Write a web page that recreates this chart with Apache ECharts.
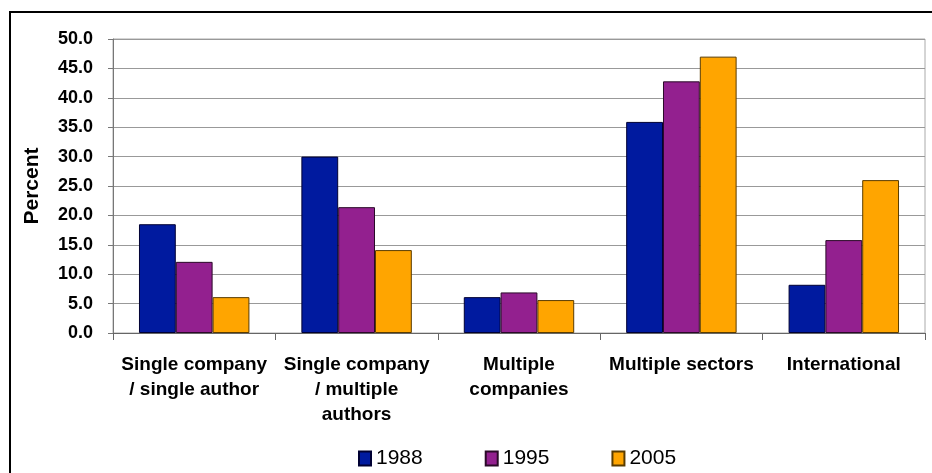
<!DOCTYPE html>
<html>
<head>
<meta charset="utf-8">
<script src="https://cdn.jsdelivr.net/npm/echarts@6/dist/echarts.min.js"></script>
<style>html,body{margin:0;padding:0;background:#fff}#c{width:932px;height:473px}</style>
</head>
<body>
<div id="c"></div>
<script>
const categories = ["Single company\n/ single author", "Single company\n/ multiple\nauthors", "Multiple\ncompanies", "Multiple sectors", "International"];
const seriesNames = ["1988", "1995", "2005"];
const values1988 = [18.5, 30.0, 6.1, 35.9, 8.2];
const values1995 = [12.1, 21.4, 6.9, 42.8, 15.8];
const values2005 = [6.1, 14.1, 5.6, 47.0, 26.0];
const colors = ["#001A9F", "#93208F", "#FFA500"];
const borderColors = ["#000033", "#2a0a28", "#5a3c00"];
const yTicks = { min: 0, max: 50, interval: 5 };

const chart = echarts.init(document.getElementById('c'), null, { renderer: 'canvas' });
const data = [values1988, values1995, values2005];
chart.setOption({
  animation: false,
  backgroundColor: '#fff',
  textStyle: { fontFamily: 'Liberation Sans, Arial, sans-serif' },
  graphic: [{
    type: 'rect', shape: { x: 10, y: 12, width: 1200, height: 1200 },
    style: { fill: 'none', stroke: '#000', lineWidth: 2 }, z: 100, silent: true
  }],
  grid: { left: 113, right: 7, top: 39, bottom: 140, show: true, borderColor: '#aaa', borderWidth: 1 },
  legend: {
    data: seriesNames, left: 353, top: 443, itemWidth: 12, itemHeight: 14, itemGap: 62,
    icon: 'rect',
    textStyle: { fontSize: 21, color: '#000', fontFamily: 'Liberation Sans, Arial, sans-serif' }
  },
  xAxis: {
    type: 'category', data: categories,
    axisLine: { lineStyle: { color: '#666', width: 1 } },
    axisTick: { show: true, length: 7, lineStyle: { color: '#666' } },
    axisLabel: { interval: 0, margin: 19, fontSize: 19, fontWeight: 'bold', color: '#000', lineHeight: 25 },
    splitLine: { show: false }
  },
  yAxis: {
    type: 'value', min: yTicks.min, max: yTicks.max, interval: yTicks.interval,
    name: 'Percent', nameLocation: 'middle', nameGap: 70, nameRotate: 90,
    nameTextStyle: { fontSize: 21, fontWeight: 'bold', color: '#000' },
    axisLine: { show: true, lineStyle: { color: '#777' } },
    axisTick: { show: true, length: 5, lineStyle: { color: '#777' } },
    axisLabel: { fontSize: 18, fontWeight: 'bold', color: '#000', margin: 20, formatter: v => v.toFixed(1) },
    splitLine: { lineStyle: { color: '#999', width: 1 } }
  },
  series: seriesNames.map((n, i) => ({
    name: n, type: 'bar', data: data[i], barGap: '0%', barCategoryGap: '32%',
    itemStyle: { color: colors[i], borderColor: borderColors[i], borderWidth: 1 }
  }))
});
</script>
</body>
</html>
